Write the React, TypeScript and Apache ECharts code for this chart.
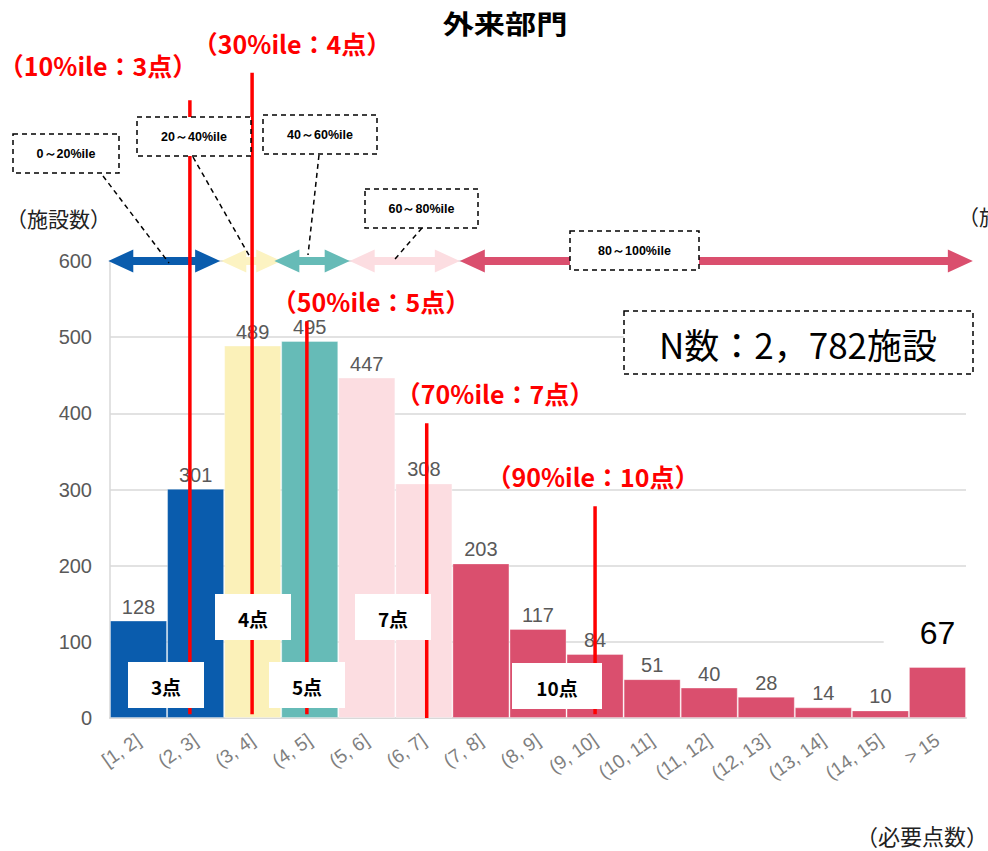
import React, { useEffect, useRef } from "react";
import * as echarts from "echarts";

const categories = ["[1, 2]", "(2, 3]", "(3, 4]", "(4, 5]", "(5, 6]", "(6, 7]", "(7, 8]", "(8, 9]", "(9, 10]", "(10, 11]", "(11, 12]", "(12, 13]", "(13, 14]", "(14, 15]", "> 15"];
const counts = [128, 301, 489, 495, 447, 308, 203, 117, 84, 51, 40, 28, 14, 10, 67];
// percentile band of each bar (0: 0-20, 1: 20-40, 2: 40-60, 3: 60-80, 4: 80-100)
const bandOfBar = [0, 0, 1, 2, 3, 3, 4, 4, 4, 4, 4, 4, 4, 4, 4];
const bandColors = ["#0A5CAD", "#FBF1B9", "#66BBB7", "#FCDDE1", "#DA4F6E"];
const arrowColors = ["#0A5CAD", "#FCF3C2", "#66BBB7", "#FCDDE1", "#DA4F6E"];
// double-arrow ranges in bar units [start, end, level, band]
const arrowRanges = [
  [-0.03, 1.93, 600, 0],
  [1.95, 3.0, 600, 1],
  [2.88, 4.2, 600, 2],
  [4.2, 6.13, 600, 3],
  [6.13, 15.12, 600, 4],
];
// percentile lines [position in bar units, bottom, top]
const pctLines = [
  [1.4, 5, 811],
  [2.49, 5, 847],
  [3.45, 5, 521],
  [5.55, 0, 387],
  [8.5, 5, 278],
];
const yTicks = { min: 0, max: 600, interval: 100 };

const JP = "'Noto Sans CJK JP', sans-serif";

export default function App() {
  const ref = useRef<HTMLDivElement>(null);
  useEffect(() => {
    if (!ref.current) return;
    const chart = echarts.init(ref.current, undefined, { renderer: "svg" });

    const dash = { stroke: "#000", lineWidth: 1.5, lineDash: [5, 4] };
    const redText = (text: string, x: number, y: number) => ({
      type: "text", x, y, z: 100,
      style: { text, fill: "#FF0000", fontSize: 25, fontWeight: "bold", fontFamily: JP, textAlign: "center", textVerticalAlign: "middle" },
    });
    const dashBox = (text: string, x: number, y: number, w: number, h: number) => ([
      { type: "rect", z: 100, shape: { x, y, width: w, height: h }, style: { fill: "#fff", ...dash } },
      { type: "text", z: 101, x: x + w / 2, y: y + h / 2, style: { text, fill: "#000", fontSize: 12.5, fontWeight: "bold", fontFamily: "'Liberation Sans', sans-serif", textAlign: "center", textVerticalAlign: "middle" } },
    ]);
    const leader = (x1: number, y1: number, x2: number, y2: number) => ({
      type: "line", z: 100, shape: { x1, y1, x2, y2 }, style: { ...dash, fill: null },
    });
    const whiteBox = (text: string, x: number, y: number, w: number, h: number) => ([
      { type: "rect", z: 100, shape: { x, y, width: w, height: h }, style: { fill: "#fff" } },
      { type: "text", z: 101, x: x + w / 2, y: y + h / 2 + 1, style: { text, fill: "#000", fontSize: 19, fontWeight: "bold", fontFamily: JP, textAlign: "center", textVerticalAlign: "middle" } },
    ]);

    const graphic: any[] = [
      { type: "text", x: 505, y: 23, z: 100, scaleX: 1.2, style: { text: "外来部門", fill: "#000", fontSize: 26, fontWeight: "bold", fontFamily: JP, textAlign: "center", textVerticalAlign: "middle" } },
      { type: "text", x: 6, y: 218, z: 100, style: { text: "（施設数）", fill: "#222", fontSize: 21, fontFamily: JP, textAlign: "left", textVerticalAlign: "middle" } },
      { type: "text", x: 958, y: 216, z: 100, style: { text: "（施設数）", fill: "#222", fontSize: 21, fontFamily: JP, textAlign: "left", textVerticalAlign: "middle" } },
      { type: "text", x: 988, y: 835, z: 100, style: { text: "（必要点数）", fill: "#222", fontSize: 22, fontFamily: JP, textAlign: "right", textVerticalAlign: "middle" } },
      redText("（10%ile：3点）", 98, 65),
      redText("（30%ile：4点）", 292, 43),
      redText("（50%ile：5点）", 371, 301),
      redText("（70%ile：7点）", 495, 393),
      redText("（90%ile：10点）", 593, 476),
      leader(103, 176, 169, 263),
      leader(193, 157, 250, 257),
      leader(319, 155, 308, 255),
      leader(422, 228, 395, 259),
      ...dashBox("0～20%ile", 13, 134, 106, 39),
      ...dashBox("20～40%ile", 137, 117, 114, 39),
      ...dashBox("40～60%ile", 263, 115, 114, 39),
      ...dashBox("60～80%ile", 365, 189, 113, 39),
      ...dashBox("80～100%ile", 570, 231, 129, 39),
      { type: "rect", z: 100, shape: { x: 624, y: 311, width: 349, height: 63 }, style: { fill: "#fff", ...dash } },
      { type: "text", z: 101, x: 798, y: 343, style: { text: "N数：2，782施設", fill: "#000", fontSize: 35, fontFamily: JP, textAlign: "center", textVerticalAlign: "middle" } },
      ...whiteBox("3点", 128, 662, 76, 46),
      ...whiteBox("4点", 215, 594, 76, 46),
      ...whiteBox("5点", 269, 662, 76, 46),
      ...whiteBox("7点", 355, 594, 76, 46),
      ...whiteBox("10点", 512, 663, 90, 46),
    ];

    const option: any = {
      animation: false,
      backgroundColor: "#fff",
      grid: { left: 110, right: 22, top: 261, bottom: 133, containLabel: false },
      xAxis: [
        {
          type: "category",
          data: categories,
          axisTick: { show: false },
          axisLine: { lineStyle: { color: "#D9D9D9", width: 2 } },
          axisLabel: { interval: 0, rotate: 35, margin: 20, color: "#7F7F7F", fontSize: 19, fontFamily: "'Liberation Sans', sans-serif" },
        },
        { type: "value", min: 0, max: 15, show: false },
      ],
      yAxis: {
        type: "value",
        min: yTicks.min,
        max: yTicks.max,
        interval: yTicks.interval,
        axisLine: { show: true, lineStyle: { color: "#D9D9D9", width: 1.5 } },
        axisTick: { show: false },
        splitLine: { lineStyle: { color: "#D9D9D9", width: 1.5 } },
        axisLabel: { margin: 18, color: "#595959", fontSize: 20, fontFamily: "'Liberation Sans', sans-serif" },
      },
      series: [
        {
          type: "bar",
          xAxisIndex: 0,
          barCategoryGap: "0%",
          z: 2,
          data: counts.map((v, i) => {
            const item: any = {
              value: v,
              itemStyle: { color: bandColors[bandOfBar[i]], borderColor: "rgba(255,255,255,0.35)", borderWidth: 1 },
            };
            if (i === counts.length - 1) {
              item.label = { fontSize: 32, color: "#000", backgroundColor: "#fff", padding: [2, 36, 0, 36], distance: 18 };
            }
            return item;
          }),
          label: { show: true, position: "top", distance: 4, color: "#595959", fontSize: 20, fontFamily: "'Liberation Sans', sans-serif" },
        },
        {
          type: "custom",
          xAxisIndex: 1,
          z: 3,
          clip: false,
          silent: true,
          data: arrowRanges,
          renderItem: (params: any, api: any) => {
            const a = api.coord([api.value(0), api.value(2)]);
            const b = api.coord([api.value(1), api.value(2)]);
            const sx = a[0], ex = b[0], cy = a[1];
            const hl = 25, hh = 11.5, st = 4;
            return {
              type: "polygon",
              shape: {
                points: [
                  [sx, cy], [sx + hl, cy - hh], [sx + hl, cy - st], [ex - hl, cy - st], [ex - hl, cy - hh],
                  [ex, cy], [ex - hl, cy + hh], [ex - hl, cy + st], [sx + hl, cy + st], [sx + hl, cy + hh],
                ],
              },
              style: { fill: arrowColors[api.value(3)] },
            };
          },
        },
        {
          type: "custom",
          xAxisIndex: 1,
          z: 4,
          clip: false,
          silent: true,
          data: pctLines,
          renderItem: (params: any, api: any) => {
            const a = api.coord([api.value(0), api.value(1)]);
            const b = api.coord([api.value(0), api.value(2)]);
            return {
              type: "line",
              shape: { x1: a[0], y1: a[1], x2: b[0], y2: b[1] },
              style: { stroke: "#FF0000", lineWidth: 3.5 },
            };
          },
        },
      ],
      graphic,
    };
    chart.setOption(option);
    return () => chart.dispose();
  }, []);
  return <div ref={ref} style={{ position: "fixed", left: 0, top: 0, width: 988, height: 851 }} />;
}
